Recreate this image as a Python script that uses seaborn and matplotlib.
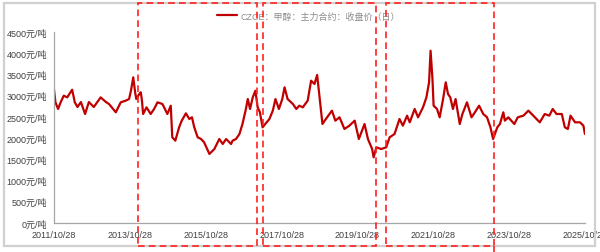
import numpy as np
import pandas as pd
import matplotlib
matplotlib.use("Agg")
import matplotlib.pyplot as plt
from matplotlib.patches import Rectangle
from matplotlib.lines import Line2D
import seaborn as sns

# ---- data (decimal years, price in 元/吨) ----
years = [2011.82, 2011.86, 2011.93, 2012.00, 2012.08, 2012.17, 2012.30, 2012.37, 2012.44, 2012.53,
         2012.64, 2012.74, 2012.87, 2013.05, 2013.19, 2013.27, 2013.45, 2013.58, 2013.71, 2013.80,
         2013.85, 2013.91, 2013.96, 2013.99, 2014.07, 2014.11, 2014.14, 2014.17, 2014.26, 2014.37,
         2014.46, 2014.55, 2014.68, 2014.81, 2014.90, 2014.94, 2015.02, 2015.12, 2015.19, 2015.30,
         2015.39, 2015.46, 2015.52, 2015.61, 2015.70, 2015.78, 2015.92, 2016.05, 2016.18, 2016.27,
         2016.36, 2016.49, 2016.53, 2016.62, 2016.71, 2016.79, 2016.88, 2016.93, 2016.99, 2017.06,
         2017.13, 2017.19, 2017.25, 2017.32, 2017.39, 2017.50, 2017.59, 2017.66, 2017.75, 2017.84,
         2017.90, 2017.98, 2018.12, 2018.21, 2018.29, 2018.38, 2018.51, 2018.60, 2018.69, 2018.76,
         2018.80, 2018.86, 2018.90, 2018.99, 2019.15, 2019.24, 2019.35, 2019.48, 2019.61, 2019.75,
         2019.86, 2020.01, 2020.10, 2020.21, 2020.25, 2020.32, 2020.45, 2020.58, 2020.67, 2020.80,
         2020.93, 2021.02, 2021.13, 2021.20, 2021.33, 2021.42, 2021.55, 2021.64, 2021.71, 2021.75,
         2021.80, 2021.83, 2021.92, 2021.99, 2022.08, 2022.15, 2022.21, 2022.27, 2022.34, 2022.41,
         2022.52, 2022.59, 2022.71, 2022.83, 2022.92, 2023.03, 2023.14, 2023.24, 2023.33, 2023.40,
         2023.51, 2023.58, 2023.67, 2023.71, 2023.80, 2023.96, 2024.05, 2024.20, 2024.33, 2024.50,
         2024.63, 2024.76, 2024.88, 2024.97, 2025.07, 2025.21, 2025.29, 2025.37, 2025.44, 2025.56,
         2025.69, 2025.78, 2025.82]
prices = [3157, 2843, 2686, 2850, 3000, 2960, 3140, 2843, 2733, 2850,
          2568, 2850, 2733, 2960, 2850, 2804, 2608, 2843, 2882, 2921,
          3117, 3432, 3079, 2921, 3039, 3079, 2882, 2568, 2725, 2568,
          2686, 2843, 2804, 2568, 2764, 2019, 1940, 2254, 2411, 2584,
          2450, 2490, 2254, 2019, 1979, 1901, 1626, 1743, 1979, 1861,
          1979, 1861, 1940, 1979, 2097, 2332, 2686, 2921, 2686, 2960,
          3117, 2725, 2608, 2254, 2332, 2450, 2647, 2921, 2686, 2921,
          3197, 2921, 2804, 2686, 2764, 2725, 2882, 3353, 3275, 3487,
          3157, 2686, 2332, 2450, 2647, 2411, 2490, 2215, 2293, 2411,
          1979, 2332, 1979, 1743, 1547, 1783, 1743, 1783, 2019, 2097,
          2450, 2293, 2529, 2372, 2686, 2490, 2725, 2960, 3314, 4059,
          3392, 2764, 2686, 2490, 2921, 3314, 3039, 2960, 2686, 2921,
          2332, 2568, 2843, 2490, 2608, 2764, 2568, 2490, 2254, 1979,
          2254, 2332, 2608, 2411, 2490, 2332, 2490, 2529, 2647, 2490,
          2372, 2568, 2529, 2686, 2568, 2568, 2254, 2215, 2529, 2372,
          2372, 2293, 2097]
series_name = "CZCE：甲醇：主力合约：收盘价（日）"
xtick_labels = ["2011/10/28", "2013/10/28", "2015/10/28", "2017/10/28",
                "2019/10/28", "2021/10/28", "2023/10/28", "2025/10/28"]
ytick_values = [0, 500, 1000, 1500, 2000, 2500, 3000, 3500, 4000, 4500]


def dec_to_date(y):
    yr = int(np.floor(y))
    frac = y - yr
    start = pd.Timestamp(year=yr, month=1, day=1)
    end = pd.Timestamp(year=yr + 1, month=1, day=1)
    return start + (end - start) * frac


df = pd.DataFrame({"date": [dec_to_date(y) for y in years], "price": prices})

sns.set_style("white")
plt.rcParams["font.family"] = ["Liberation Sans", "Noto Sans CJK SC", "DejaVu Sans"]

fig = plt.figure(figsize=(6.0, 2.53), dpi=100)
W, H = 600, 253
ax = fig.add_axes([54 / W, 1 - 224 / H, (585 - 54) / W, (224 - 33) / H])

sns.lineplot(data=df, x="date", y="price", ax=ax, color="#C00000", linewidth=1.6,
             label=series_name, legend=False)

xt = [pd.Timestamp(s.replace("/", "-")) for s in xtick_labels]
ax.set_xlim(xt[0], xt[-1])
ax.set_xticks(xt)
ax.set_xticklabels(xtick_labels)
ax.set_ylim(0, 4500)
ax.set_yticks(ytick_values)
ax.set_yticklabels([f"{v}元/吨" for v in ytick_values])
ax.set_xlabel("")
ax.set_ylabel("")

for s in ["top", "right"]:
    ax.spines[s].set_visible(False)
for s in ["left", "bottom"]:
    ax.spines[s].set_color("#A6A6A6")
    ax.spines[s].set_linewidth(0.9)
ax.tick_params(axis="both", direction="out", length=3, width=0.8, color="#A6A6A6",
               labelsize=6.5, labelcolor="#404040", pad=2)
ax.grid(False)

# legend
handle = Line2D([0], [0], color="#C00000", linewidth=1.6)
leg = ax.legend([handle], [series_name], loc="center left",
                bbox_to_anchor=(217 / W, 1 - 17 / H), bbox_transform=fig.transFigure,
                frameon=False, fontsize=6.5, handlelength=2.2, handletextpad=0.4,
                borderaxespad=0, borderpad=0)
for t in leg.get_texts():
    t.set_color("#8C8C8C")


def fig_rect(x0, y0, x1, y1, **kw):
    r = Rectangle((x0 / W, 1 - y1 / H), (x1 - x0) / W, (y1 - y0) / H,
                  transform=fig.transFigure, fill=False, **kw)
    fig.patches.append(r)


# outer gray frame
fig_rect(4, 4, 595, 247, edgecolor="#D0D0D0", linewidth=1.6)

# red dashed highlight boxes
red_kw = dict(edgecolor="#FF2020", linewidth=1.2, linestyle=(0, (4, 2.5)))
fig_rect(138, 4, 257, 247, **red_kw)
fig_rect(263, 4, 376, 247, **red_kw)
fig_rect(386, 4, 494, 247, **red_kw)
fig.lines.append(Line2D([494 / W, 494 / W], [1 - 247 / H, 0], transform=fig.transFigure,
                        color="#FF2020", linewidth=1.2, linestyle=(0, (4, 2.5))))

fig.savefig("out.png", dpi=100)
